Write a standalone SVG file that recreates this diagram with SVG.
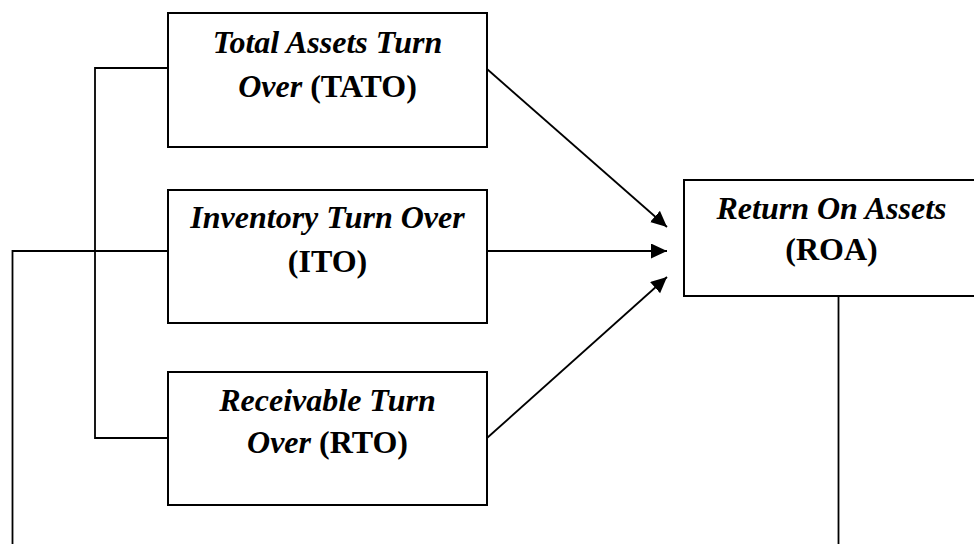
<svg xmlns="http://www.w3.org/2000/svg" width="974" height="544" viewBox="0 0 974 544">
<style>
.box{fill:#fff;stroke:#000;stroke-width:2}
.ln{fill:none;stroke:#000;stroke-width:1.8}
text{font-family:"Liberation Serif","Times New Roman",serif;font-size:32px;font-weight:bold;text-anchor:middle;fill:#000}
.i{font-style:italic}
</style>
<defs>
<marker id="ah" markerUnits="userSpaceOnUse" markerWidth="18" markerHeight="16" refX="16" refY="7.5" orient="auto">
<path d="M0,0 L16,7.5 L0,15 Z" fill="#000"/>
</marker>
</defs>
<g id="connectors">
<polyline class="ln" points="168,68 95,68 95,438 168,438"/>
<polyline class="ln" points="168,251 12.5,251 12.5,544"/>
<line class="ln" x1="838.5" y1="296" x2="838.5" y2="544"/>
<line class="ln" x1="487" y1="69" x2="667" y2="227" marker-end="url(#ah)"/>
<line class="ln" x1="487" y1="251" x2="667" y2="251" marker-end="url(#ah)"/>
<line class="ln" x1="487" y1="438" x2="667" y2="277" marker-end="url(#ah)"/>
</g>
<g id="tato">
<rect class="box" x="168" y="13" width="319" height="134"/>
<text x="327.5" y="53" class="i">Total Assets Turn</text>
<text x="327.5" y="97"><tspan class="i">Over</tspan> (TATO)</text>
</g>
<g id="ito">
<rect class="box" x="168" y="190" width="319" height="133"/>
<text x="327.5" y="228" class="i">Inventory Turn Over</text>
<text x="327.5" y="272">(ITO)</text>
</g>
<g id="rto">
<rect class="box" x="168" y="372" width="319" height="133"/>
<text x="327.5" y="411" class="i">Receivable Turn</text>
<text x="327.5" y="453"><tspan class="i">Over</tspan> (RTO)</text>
</g>
<g id="roa">
<rect class="box" x="684" y="180" width="295" height="116"/>
<text x="831.5" y="219" class="i">Return On Assets</text>
<text x="831.5" y="260">(ROA)</text>
</g>
</svg>
